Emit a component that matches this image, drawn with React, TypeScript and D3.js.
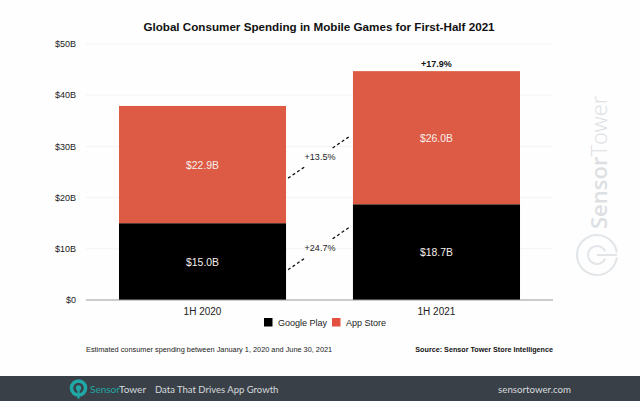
import * as d3 from "d3";

const periods = ["1H 2020", "1H 2021"];
const seriesNames = ["Google Play", "App Store"];
const googlePlay = [15.0, 18.7];
const appStore = [22.9, 26.0];
const valueLabels = [
  ["$15.0B", "$18.7B"],
  ["$22.9B", "$26.0B"],
];
const yTicks = [0, 10, 20, 30, 40, 50];
const yTickLabels = ["$0", "$10B", "$20B", "$30B", "$40B", "$50B"];
const growthLabels = ["+24.7%", "+13.5%"];
// value the dashed connectors start and finish at
const connectorFrom = [5.9, 23.8];
const connectorTo = [14.3, 32.0];
const totalGrowth = "+17.9%";

const width = 640;
const height = 401;
const sans = "'Liberation Sans', Arial, sans-serif";
const footerFont = "Lato, sans-serif";
const colors = ["#000000", "#dd5a44"];

export default function App() {
  const x = d3.scaleBand(periods, [86, 553]).paddingInner(0.286).paddingOuter(0.141);
  const y = d3.scaleLinear([0, 50], [300, 44]);
  const stack = d3.stack<number>().keys(["0", "1"]).value((i, key) => [googlePlay, appStore][+key][i]);
  const layers = stack([0, 1]);

  const gapLeft = x(periods[0])! + x.bandwidth() + 2;
  const gapRight = x(periods[1])! - 3;
  const gapX = d3.scaleLinear([0, 1], [gapLeft, gapRight]);
  const centerX = (p: string) => x(p)! + x.bandwidth() / 2;

  const ring = d3.arc()({ innerRadius: 19, outerRadius: 21, startAngle: 0.12, endAngle: Math.PI * 2 - 0.12 })!;
  const innerRing = d3.arc()({ innerRadius: 8, outerRadius: 10, startAngle: 0.4, endAngle: Math.PI * 2 - 0.4 })!;

  return (
    <svg
      width={width}
      height={height}
      style={{ position: "absolute", left: 0, top: 0, background: "#fefefe", fontFamily: sans }}
    >
      <text x={319} y={31} textAnchor="middle" fontSize={11.65} fontWeight="bold" fill="#111">
        Global Consumer Spending in Mobile Games for First-Half 2021
      </text>

      {/* grid + y axis */}
      {yTicks.map((t, i) => (
        <g key={t}>
          {t > 0 && <line x1={86} x2={553} y1={y(t)} y2={y(t)} stroke="#f3f3f3" />}
          <text x={76} y={y(t) + 3.2} textAnchor="end" fontSize={9} fill="#222">
            {yTickLabels[i]}
          </text>
        </g>
      ))}

      {/* bars */}
      {layers.map((layer, s) =>
        layer.map((d, i) => (
          <g key={`${s}-${i}`}>
            <rect
              x={x(periods[i])}
              width={x.bandwidth()}
              y={y(d[1])}
              height={y(d[0]) - y(d[1])}
              fill={colors[s]}
            />
            <text
              x={centerX(periods[i])}
              y={y((d[0] + d[1]) / 2) + 4}
              textAnchor="middle"
              fontSize={10.4}
              fill="#f6f0ec"
            >
              {valueLabels[s][i]}
            </text>
          </g>
        ))
      )}
      <line x1={86} x2={553} y1={y(0)} y2={y(0)} stroke="#999" strokeWidth={1.2} />

      {periods.map((p) => (
        <text key={p} x={centerX(p)} y={315} textAnchor="middle" fontSize={10} fill="#222">
          {p}
        </text>
      ))}

      <text x={centerX(periods[1])} y={67} textAnchor="middle" fontSize={9} fontWeight="bold" fill="#111">
        {totalGrowth}
      </text>

      {/* growth connectors, broken around the label */}
      {growthLabels.map((label, i) => {
        const vy = d3.scaleLinear([0, 1], [y(connectorFrom[i]), y(connectorTo[i])]);
        return (
          <g key={label}>
            {[
              [0, 0.28],
              [0.72, 1],
            ].map(([a, b]) => (
              <line
                key={a}
                x1={gapX(a)}
                x2={gapX(b)}
                y1={vy(a)}
                y2={vy(b)}
                stroke="#111"
                strokeWidth={1.3}
                strokeDasharray="3 2.5"
              />
            ))}
            <text x={gapX(0.5) + 1} y={vy(0.5) + 3} textAnchor="middle" fontSize={9} fill="#222">
              {label}
            </text>
          </g>
        );
      })}

      {/* legend */}
      {seriesNames.map((name, i) => (
        <g key={name} transform={`translate(${[264, 332][i]},318)`}>
          <rect width={8.5} height={8.5} fill={i === 0 ? colors[0] : "#e4503f"} />
          <text x={14} y={8} fontSize={9} fill="#222">
            {name}
          </text>
        </g>
      ))}

      <text x={86} y={352} fontSize={7.35} fill="#222">
        Estimated consumer spending between January 1, 2020 and June 30, 2021
      </text>
      <text x={553} y={352} textAnchor="end" fontSize={7.2} fontWeight="bold" fill="#111">
        Source: Sensor Tower Store Intelligence
      </text>

      {/* watermark */}
      <g fill="#e3e6e9">
        <text
          transform="translate(607,229) rotate(-90)"
          fontSize={22}
          fontFamily="'Open Sans', sans-serif"
          fontWeight={300}
          fill="#dde0e3"
        >
          <tspan fontWeight={600}>Sensor</tspan>Tower
        </text>
        <g transform="translate(597,255)">
          <path d={ring} transform="rotate(90)" />
          <path d={innerRing} transform="rotate(90)" />
          <rect x={0} y={-1} width={20} height={2} />
        </g>
      </g>

      {/* footer */}
      <rect x={0} y={376} width={640} height={25} fill="#3a4048" />
      <g transform="translate(78.5,388) scale(0.44)" fill="#1fa8a5">
        <circle r={20} />
        <circle r={12} fill="#3a4048" />
        <circle r={6} />
        <rect x={-2.5} y={0} width={5} height={24} />
      </g>
      <text x={90} y={393} fontSize={10} fontFamily={footerFont} fill="#1fa8a5">
        Sensor<tspan fill="#d7dbde">Tower</tspan>
      </text>
      <text x={155} y={393} fontSize={9.5} fontFamily={footerFont} fill="#d7dbde">
        Data That Drives App Growth
      </text>
      <text x={571} y={393} textAnchor="end" fontSize={9.7} fontFamily={footerFont} fill="#d7dbde">
        sensortower.com
      </text>
    </svg>
  );
}
